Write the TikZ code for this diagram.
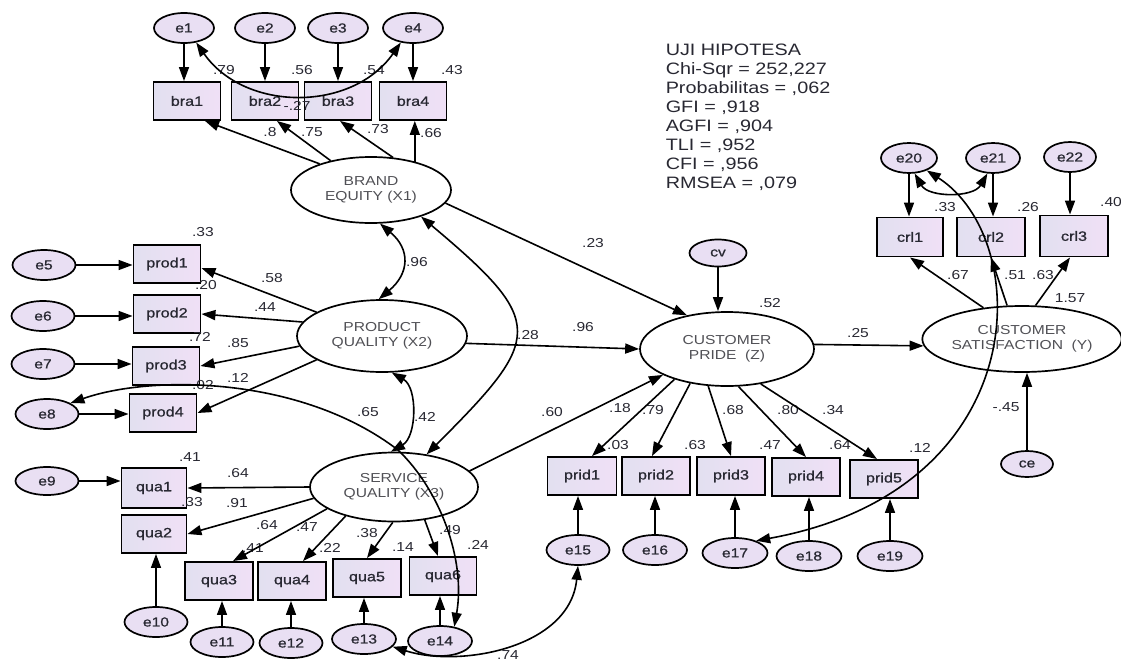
\documentclass[tikz,border=0pt]{standalone}
\usepackage{fontspec}
\setmainfont{Liberation Sans}[FakeStretch=1.2]
\newfontfamily\nodefont{Liberation Sans}[FakeStretch=1.2, FakeBold=0.8]
\usetikzlibrary{shapes.geometric,arrows.meta}
\definecolor{errfill}{RGB}{233,223,243}
\definecolor{boxl}{RGB}{226,224,240}
\definecolor{boxr}{RGB}{240,224,246}
\definecolor{txt}{RGB}{40,40,50}
\definecolor{lattxt}{RGB}{80,80,85}
\begin{document}
\begin{tikzpicture}[x=1pt,y=-1pt,
  line width=1.5pt,
  arr/.style={-{Triangle[length=14pt,width=10pt]}, line width=1.6pt},
  cov/.style={{Triangle[length=14pt,width=10pt]}-{Triangle[length=14pt,width=10pt]}, line width=1.6pt},
  err/.style={ellipse, draw, line width=1.7pt, fill=errfill, minimum width=60pt, minimum height=30pt, inner sep=0pt, text=txt, font=\nodefont\fontsize{13}{15}\selectfont},
  obs/.style={rectangle, draw, line width=1.9pt, left color=boxl, right color=boxr, minimum width=67pt, minimum height=38pt, inner sep=0pt, text=txt, font=\nodefont\fontsize{13.5}{15}\selectfont},
  lat/.style={ellipse, draw, line width=1.7pt, fill=white, inner sep=0pt, align=center, text=lattxt, font=\fontsize{13}{15}\selectfont},
  lbl/.style={inner sep=0pt, text=txt, font=\fontsize{13}{15}\selectfont},
  stat/.style={inner sep=0pt, anchor=base west, text=txt, font=\fontsize{16.5}{19}\selectfont},
]
\useasboundingbox (0,0) rectangle (1121,664);
\fill[white] (0,0) rectangle (1121,664);

% ---------- nodes ----------
\node[err] (e1) at (184,28) {e1};
\node[err] (e2) at (265,28) {e2};
\node[err] (e3) at (338,28) {e3};
\node[err] (e4) at (413,28) {e4};
\node[obs] (bra1) at (187,101) {bra1};
\node[obs] (bra2) at (265,101) {bra2};
\node[obs] (bra3) at (338,101) {bra3};
\node[obs] (bra4) at (413,101) {bra4};
\node[lat, minimum width=160pt, minimum height=66pt] (BE) at (371,190) {BRAND\\EQUITY (X1)};

\node[err, minimum width=63pt] (e5) at (44,265) {e5};
\node[err, minimum width=63pt] (e6) at (43,316) {e6};
\node[err, minimum width=63pt] (e7) at (43,364) {e7};
\node[err, minimum width=63pt] (e8) at (47,414) {e8};
\node[obs] (prod1) at (167,264) {prod1};
\node[obs] (prod2) at (167,314) {prod2};
\node[obs] (prod3) at (166,366) {prod3};
\node[obs] (prod4) at (163,413) {prod4};
\node[lat, minimum width=170pt, minimum height=72pt] (PQ) at (382,336) {PRODUCT\\QUALITY (X2)};

\node[err, minimum width=63pt, minimum height=28pt] (e9) at (47,481) {e9};
\node[obs, minimum width=65pt, minimum height=40pt] (qua1) at (154,488) {qua1};
\node[obs, minimum width=65pt] (qua2) at (154,534) {qua2};
\node[err, minimum width=63pt] (e10) at (156,622) {e10};
\node[obs, minimum width=68pt] (qua3) at (219,581) {qua3};
\node[obs, minimum width=68pt] (qua4) at (292,581) {qua4};
\node[obs, minimum width=68pt] (qua5) at (367,578) {qua5};
\node[obs, minimum width=67pt] (qua6) at (443,576) {qua6};
\node[err, minimum width=63pt] (e11) at (222,642) {e11};
\node[err, minimum width=63pt] (e12) at (291,643) {e12};
\node[err, minimum width=64pt] (e13) at (364,639) {e13};
\node[err, minimum width=64pt] (e14) at (440,641) {e14};
\node[lat, minimum width=168pt, minimum height=69pt] (SQ) at (394,487) {SERVICE\\QUALITY (X3)};

\node[err, minimum width=57pt, minimum height=27pt] (cv) at (718,253) {cv};
\node[lat, minimum width=174pt, minimum height=74pt] (CP) at (727,349) {CUSTOMER\\PRIDE~~(Z)};
\node[obs, minimum width=69pt] (prid1) at (582,476) {prid1};
\node[obs, minimum width=68pt] (prid2) at (656,476) {prid2};
\node[obs, minimum width=68pt] (prid3) at (731,476) {prid3};
\node[obs, minimum width=68pt] (prid4) at (806,477) {prid4};
\node[obs, minimum width=68pt] (prid5) at (884,479) {prid5};
\node[err, minimum width=63pt] (e15) at (578,550) {e15};
\node[err, minimum width=64pt] (e16) at (655,550) {e16};
\node[err, minimum width=65pt] (e17) at (735,553) {e17};
\node[err, minimum width=65pt] (e18) at (809,556) {e18};
\node[err, minimum width=65pt] (e19) at (890,556) {e19};

\node[lat, minimum width=178pt, minimum height=66pt] (CS) at (1022,339) {CUSTOMER\\SATISFACTION~~(Y)};
\node[err, minimum width=52pt, minimum height=26pt] (ce) at (1027,464) {ce};
\node[obs, minimum width=66pt, minimum height=39pt] (crl1) at (910,237) {crl1};
\node[obs, minimum width=68pt, minimum height=39pt] (crl2) at (991,237) {crl2};
\node[obs, minimum width=68pt, minimum height=41pt] (crl3) at (1074,236) {crl3};
\node[err, minimum width=56pt] (e20) at (909,158) {e20};
\node[err, minimum width=54pt] (e21) at (993,158) {e21};
\node[err, minimum width=52pt] (e22) at (1070,157) {e22};

% ---------- statistics ----------
\foreach \y/\t [count=\i] in {55.5/UJI HIPOTESA, 74.5/{Chi-Sqr = 252,227}, 93.5/{Probabilitas = ,062}, 112.5/{GFI = ,918}, 131.5/{AGFI = ,904}, 150.5/{TLI = ,952}, 169.5/{CFI = ,956}, 188.5/{RMSEA = ,079}}
  \node[stat] (s\i) at (665,\y) {\t};

% ---------- labels ----------
\foreach \p/\t [count=\i] in {
  {224,70}/.79, {302,70}/.56, {374,70}/.54, {452,70}/.43, {297,106}/-.27,
  {270,132}/.8, {312,132}/.75, {378,129}/.73, {431,133}/.66,
  {417,262}/.96,
  {203,232}/.33, {272,278}/.58, {206,285}/.20, {265,307}/.44, {200,337}/.72,
  {238,343}/.85, {238,378}/.12, {203,385}/.02, {368,412}/.65, {425,417}/.42,
  {593,243}/.23, {528,335}/.28, {583,327}/.96, {770,303}/.52, {858,333}/.25,
  {552,412}/.60, {620,408}/.18, {653,410}/.79, {733,410}/.68, {788,410}/.80, {833,410}/.34,
  {618,445}/.03, {695,445}/.63, {770,445}/.47, {840,445}/.64, {920,448}/.12,
  {190,457}/.41, {238,473}/.64, {192,502}/.33, {237,503}/.91, {267,525}/.64,
  {307,527}/.47, {253,548}/.41, {330,548}/.22, {367,533}/.38, {403,547}/.14,
  {450,530}/.49, {478,545}/.24,
  {508,655}/.74,
  {945,207}/.33, {1028,207}/.26, {1111,202}/.40, {958,275}/.67, {1015,275}/.51,
  {1043,275}/.63, {1070,298}/1.57, {1006,407}/-.45}
  \node[lbl] (l\i) at (\p) {\t};

% ---------- error arrows ----------
\foreach \e/\o in {e1/bra1, e2/bra2, e3/bra3, e4/bra4, e20/crl1, e21/crl2, e22/crl3}
  \draw[arr] (\e) -- (\e |- \o.north);
\foreach \e/\o in {e10/qua2, e11/qua3, e12/qua4, e13/qua5, e14/qua6, e15/prid1, e16/prid2, e17/prid3, e18/prid4, e19/prid5}
  \draw[arr] (\e) -- (\e |- \o.south);
\foreach \e/\o in {e5/prod1, e6/prod2, e7/prod3, e8/prod4, e9/qua1}
  \draw[arr] (\e) -- (\e -| \o.west);
\draw[arr] (cv) -- (cv |- CP.north);
\draw[arr] (ce) -- (ce |- CS.south);

% ---------- loadings ----------
\draw[arr] (BE.153) -- ([xshift=18pt]bra1.south);
\draw[arr] (BE.144) -- ([xshift=12pt]bra2.south);
\draw[arr] (BE.56) -- ([xshift=2pt]bra3.south);
\draw[arr] (BE.33) -- (BE.33 |- bra4.south);

\draw[arr] (PQ.160) -- ([yshift=-4pt]prod1.east);
\draw[arr] (PQ.170) -- (prod2.east);
\draw[arr] (PQ.187) -- (prod3.east);
\draw[arr] (PQ.200) -- (prod4.east);

\draw[arr] (SQ.west) -- (qua1.east);
\draw[arr] (SQ.188) -- (qua2.east);
\draw[arr] (SQ.198) -- ([xshift=14pt]qua3.north);
\draw[arr] (SQ.211) -- ([xshift=11pt]qua4.north);
\draw[arr] (SQ.268) -- (qua5.north);
\draw[arr] (SQ.-47) -- ([xshift=-5pt]qua6.north);

\draw[arr] (CP.210) -- ([xshift=10pt]prid1.north);
\draw[arr] (CP.223) -- ([xshift=-4pt]prid2.north);
\draw[arr] (CP.243) -- (prid3.north);
\draw[arr] (CP.-73) -- (prid4.north);
\draw[arr] (CP.-46) -- ([xshift=-7pt]prid5.north);

\draw[arr] (CS.141) -- (crl1.south);
\draw[arr] (CS.114) -- (crl2.south);
\draw[arr] (CS.68) -- ([xshift=-4pt]crl3.south);

% ---------- structural paths ----------
\draw[arr] (BE.-10) -- (CP.140);
\draw[arr] (PQ.-5) -- (CP.west);
\draw[arr] (SQ.12) -- (CP.202);
\draw[arr] (CP.3) -- (CS.184);

% ---------- covariances ----------
\draw[cov] (e1.-50) .. controls +(-55:85pt) and +(-125:85pt) .. (e4.-130);
\draw[cov] (BE.-75) .. controls +(-40:40pt) and +(40:40pt) .. (PQ.95);
\draw[cov] (PQ.-75) .. controls +(-30:30pt) and +(30:30pt) .. (SQ.95);
\draw[cov] (BE.-28) .. controls +(-40:165pt) and +(45:165pt) .. (SQ.45);
\draw[cov] (e8.25) .. controls (150,375) and (300,375) .. (398,450) .. controls (440,490) and (466,560) .. (e14.45);
\draw[cov] (e13.-15) .. controls (460,668) and (570,648) .. (e15.south);
\draw[cov] (e20.-70) .. controls +(-60:28pt) and +(-120:28pt) .. (e21.-110);
\draw[cov] (e20.-35) .. controls (1035,240) and (1035,490) .. (e17.30);
\end{tikzpicture}
\end{document}
